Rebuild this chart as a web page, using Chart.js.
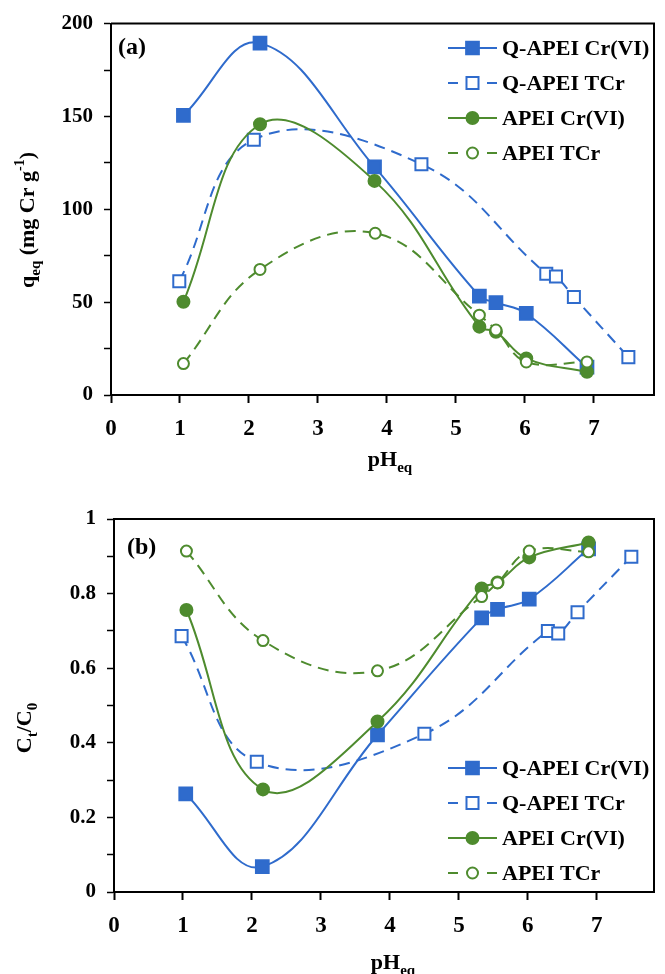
<!DOCTYPE html>
<html>
<head>
<meta charset="utf-8">
<script src="https://cdn.jsdelivr.net/npm/chart.js@4.4.1/dist/chart.umd.min.js"></script>
<style>
  html, body { margin: 0; padding: 0; background: #fff; }
  canvas { display: block; }
</style>
</head>
<body>
<canvas id="chartA" width="665" height="480"></canvas>
<canvas id="chartB" width="665" height="494"></canvas>
<script>
// series names (same in both panels)
const seriesNames = ['Q-APEI Cr(VI)', 'Q-APEI TCr', 'APEI Cr(VI)', 'APEI TCr'];

// panel (a): q_eq (mg Cr g-1) vs pH_eq
const phA_QCr  = [1.05, 2.16, 3.82, 5.34, 5.58, 6.02, 6.90];
const qA_QCr   = [150.6, 189.5, 122.8, 53.3, 49.8, 43.9, 15.0];
const phA_QTCr = [0.99, 2.07, 4.50, 6.31, 6.45, 6.71, 7.50];
const qA_QTCr  = [61.3, 137.5, 124.3, 65.3, 63.8, 52.8, 20.4];
const phA_ACr  = [1.05, 2.16, 3.82, 5.34, 5.58, 6.02, 6.90];
const qA_ACr   = [50.2, 145.8, 115.3, 36.8, 34.0, 19.7, 12.5];
const phA_ATCr = [1.05, 2.16, 3.83, 5.34, 5.58, 6.02, 6.90];
const qA_ATCr  = [16.9, 67.6, 87.1, 43.0, 35.0, 17.8, 17.8];

// panel (b): Ct/C0 vs pH_eq
const phB_QCr  = [1.04, 2.15, 3.82, 5.33, 5.56, 6.02, 6.88];
const cB_QCr   = [0.263, 0.068, 0.421, 0.735, 0.758, 0.785, 0.920];
const phB_QTCr = [0.98, 2.07, 4.50, 6.29, 6.44, 6.72, 7.50];
const cB_QTCr  = [0.686, 0.349, 0.424, 0.700, 0.693, 0.750, 0.899];
const phB_ACr  = [1.05, 2.16, 3.82, 5.33, 5.56, 6.02, 6.88];
const cB_ACr   = [0.756, 0.275, 0.457, 0.814, 0.830, 0.897, 0.937];
const phB_ATCr = [1.05, 2.16, 3.82, 5.33, 5.56, 6.02, 6.88];
const cB_ATCr  = [0.914, 0.674, 0.593, 0.792, 0.829, 0.914, 0.912];

// x tick labels shown
const xTickValues = [0, 1, 2, 3, 4, 5, 6, 7];

const BLUE = '#2f6bcc';
const GREEN = '#4e8b2e';
const FAMILY = '"Liberation Serif", "Times New Roman", serif';
const FONT = 'bold 22px ' + FAMILY;
const LEGEND_FONT = 'bold 22px ' + FAMILY;

// line/marker style for each series
const styles = [
    { color: BLUE,  dash: [],       point: 'rect',   radius: 9,   fill: BLUE },
    { color: BLUE,  dash: [11, 7],  point: 'rect',   radius: 8.5, fill: '#fff' },
    { color: GREEN, dash: [],       point: 'circle', radius: 6,   fill: GREEN },
    { color: GREEN, dash: [11, 7],  point: 'circle', radius: 5.5, fill: '#fff' },
];

function toPoints(xs, ys) {
    return xs.map((x, i) => ({ x: x, y: ys[i] }));
}

// text with sub/superscripts, centred at (x, y) on the baseline
function drawRich(ctx, parts, x, y, angle) {
    const fonts = { n: FONT, sub: 'bold 15px ' + FAMILY, sup: 'bold 14px ' + FAMILY };
    const shift = { n: 0, sub: 6, sup: -10 };
    let total = 0;
    parts.forEach(p => { ctx.font = fonts[p[1]]; total += ctx.measureText(p[0]).width; });
    ctx.save();
    ctx.translate(x, y);
    ctx.rotate(angle);
    ctx.textBaseline = 'alphabetic';
    ctx.textAlign = 'left';
    let cx = -total / 2;
    parts.forEach(p => {
        ctx.font = fonts[p[1]];
        ctx.fillText(p[0], cx, shift[p[1]]);
        cx += ctx.measureText(p[0]).width;
    });
    ctx.restore();
}

function drawMarker(ctx, st, x, y) {
    ctx.beginPath();
    if (st.point === 'rect') {
        const h = st.radius * Math.SQRT1_2;
        ctx.rect(x - h, y - h, 2 * h, 2 * h);
    } else {
        ctx.arc(x, y, st.radius, 0, Math.PI * 2);
    }
    ctx.fillStyle = st.fill;
    ctx.fill();
    ctx.setLineDash([]);
    ctx.strokeStyle = st.color;
    ctx.lineWidth = 2;
    ctx.stroke();
}

function makeDecor(d) {
    return {
        id: 'decor',
        afterDraw(chart) {
            const ctx = chart.ctx;
            const a = chart.chartArea;
            ctx.save();
            // top and right frame lines
            ctx.strokeStyle = '#000';
            ctx.lineWidth = 2;
            ctx.beginPath();
            ctx.moveTo(a.left, a.top);
            ctx.lineTo(a.right, a.top);
            ctx.lineTo(a.right, a.bottom);
            ctx.stroke();

            ctx.fillStyle = '#000';
            ctx.font = 'bold 24px ' + FAMILY;
            ctx.textBaseline = 'middle';
            ctx.fillText(d.letter, d.letterX, d.letterY);

            drawRich(ctx, d.xTitle, d.xTitleX, d.xTitleY, 0);
            drawRich(ctx, d.yTitle, d.yTitleX, d.yTitleY, -Math.PI / 2);

            // legend: line - marker - line, then label
            seriesNames.forEach((name, i) => {
                const st = styles[i];
                const y = d.legendY + i * d.legendStep;
                const x0 = d.legendX, x1 = d.legendX + 49, xm = d.legendX + 24.5;
                ctx.strokeStyle = st.color;
                ctx.lineWidth = 2.2;
                ctx.setLineDash([]);
                ctx.beginPath();
                if (st.dash.length) {
                    ctx.moveTo(x0, y); ctx.lineTo(x0 + 10, y);
                    ctx.moveTo(x1 - 10, y); ctx.lineTo(x1, y);
                } else {
                    ctx.moveTo(x0, y); ctx.lineTo(x1, y);
                }
                ctx.stroke();
                drawMarker(ctx, st, xm, y);
                ctx.fillStyle = '#000';
                ctx.font = LEGEND_FONT;
                ctx.textBaseline = 'middle';
                ctx.fillText(name, x1 + 5, y + 1);
            });
            ctx.restore();
        }
    };
}

function makeChart(id, series, y, d) {
    const datasets = series.map((s, i) => ({
        label: seriesNames[i],
        data: toPoints(s[0], s[1]),
        borderColor: styles[i].color,
        backgroundColor: styles[i].fill,
        borderWidth: 2,
        borderDash: styles[i].dash,
        pointStyle: styles[i].point,
        pointRadius: styles[i].radius,
        pointBorderWidth: 2,
        pointBorderColor: styles[i].color,
        pointBackgroundColor: styles[i].fill,
        tension: 0.4,
        order: 3 - i,
    }));

    return new Chart(document.getElementById(id), {
        type: 'line',
        data: { datasets: datasets },
        options: {
            responsive: false,
            animation: false,
            layout: { padding: { top: d.top, right: 665 - d.right, left: 0, bottom: 0 } },
            plugins: { legend: { display: false }, tooltip: { enabled: false } },
            scales: {
                x: {
                    type: 'linear',
                    min: 0,
                    max: (d.right - d.left) / 70,
                    afterFit: sc => { sc.height = d.height - d.bottom; },
                    afterBuildTicks: sc => { sc.ticks = xTickValues.map(v => ({ value: v })); },
                    border: { color: '#000', width: 2 },
                    grid: { drawOnChartArea: false, drawTicks: true, tickLength: 8, tickColor: '#000', tickWidth: 2 },
                    ticks: { color: '#000', font: { family: FAMILY, size: 23, weight: 'bold' }, padding: 12, maxRotation: 0 },
                },
                y: {
                    min: 0,
                    max: y.max,
                    afterFit: sc => { sc.width = d.left; },
                    border: { color: '#000', width: 2 },
                    grid: { drawOnChartArea: false, drawTicks: true, tickLength: 7, tickColor: '#000', tickWidth: 1.5 },
                    ticks: {
                        stepSize: y.step,
                        color: '#000',
                        padding: 11,
                        font: { family: FAMILY, size: 21, weight: 'bold' },
                        callback: y.label,
                    },
                },
            },
        },
        plugins: [makeDecor(d)],
    });
}

makeChart('chartA',
    [[phA_QCr, qA_QCr], [phA_QTCr, qA_QTCr], [phA_ACr, qA_ACr], [phA_ATCr, qA_ATCr]],
    { max: 200, step: 25, label: v => (v % 50 === 0 ? String(v) : '') },
    {
        height: 480, left: 111, right: 662, top: 22, bottom: 395,
        letter: '(a)', letterX: 118, letterY: 48,
        xTitle: [['pH', 'n'], ['eq', 'sub']], xTitleX: 390, xTitleY: 466,
        yTitle: [['q', 'n'], ['eq', 'sub'], [' (mg Cr g', 'n'], ['-1', 'sup'], [')', 'n']], yTitleX: 34, yTitleY: 220,
        legendX: 448, legendY: 48, legendStep: 35,
    });

makeChart('chartB',
    [[phB_QCr, cB_QCr], [phB_QTCr, cB_QTCr], [phB_ACr, cB_ACr], [phB_ATCr, cB_ATCr]],
    { max: 1, step: 0.1, label: v => (Math.round(v * 10) % 2 === 0 ? String(Math.round(v * 10) / 10) : '') },
    {
        height: 494, left: 114, right: 662, top: 39, bottom: 412,
        letter: '(b)', letterX: 127, letterY: 68,
        xTitle: [['pH', 'n'], ['eq', 'sub']], xTitleX: 393, xTitleY: 489,
        yTitle: [['C', 'n'], ['t', 'sub'], ['/C', 'n'], ['0', 'sub']], yTitleX: 31, yTitleY: 248,
        legendX: 448, legendY: 288, legendStep: 35,
    });
</script>
</body>
</html>
